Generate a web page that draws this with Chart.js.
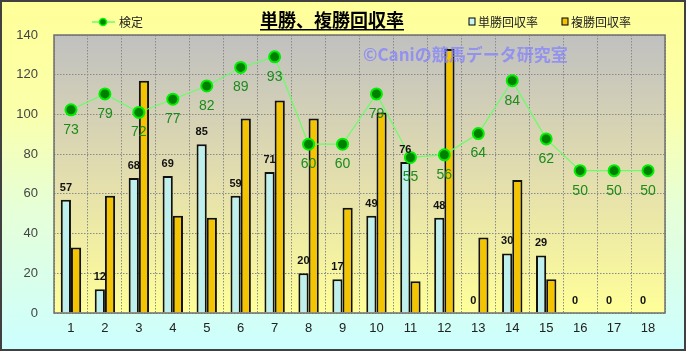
<!DOCTYPE html>
<html>
<head>
<meta charset="utf-8">
<script src="https://cdn.jsdelivr.net/npm/chart.js@4.4.0/dist/chart.umd.min.js"></script>
<style>
  body { margin: 0; background: #fff; }
  #wrap { position: relative; width: 686px; height: 351px; }
</style>
</head>
<body>
<div id="wrap"><canvas id="chart" width="686" height="351"></canvas></div>
<script>
const labels = ['1','2','3','4','5','6','7','8','9','10','11','12','13','14','15','16','17','18'];
const tanshoRate = [57, 12, 68, 69, 85, 59, 71, 20, 17, 49, 76, 48, 0, 30, 29, 0, 0, 0];
const fukushoRate = [33, 59, 117, 49, 48, 98, 107, 98, 53, 101, 16, 133, 38, 67, 17, 0, 0, 0];
const kentei = [73, 79, 72, 77, 82, 89, 93, 60, 60, 79, 55, 56, 64, 84, 62, 50, 50, 50];
const yTicks = [0, 20, 40, 60, 80, 100, 120, 140];

const JP = '"Noto Sans CJK JP", sans-serif';
const NUM = '"Liberation Sans", Arial, sans-serif';

// backgrounds, frame, title, legend, watermark
const decorPlugin = {
  id: 'decor',
  beforeDraw(chart) {
    const { ctx, width, height, chartArea: a } = chart;
    ctx.save();
    let g = ctx.createLinearGradient(0, 0, 0, height);
    g.addColorStop(0, '#ffff99');
    g.addColorStop(0.3, '#fbffa8');
    g.addColorStop(0.6, '#e6ffd8');
    g.addColorStop(1, '#ccffff');
    ctx.fillStyle = g;
    ctx.fillRect(0, 0, width, height);

    g = ctx.createLinearGradient(0, a.top, 0, a.bottom);
    g.addColorStop(0, '#c0c0c0');
    g.addColorStop(0.5, '#e2ddae');
    g.addColorStop(1, '#ffff99');
    ctx.fillStyle = g;
    ctx.fillRect(a.left, a.top, a.right - a.left, a.bottom - a.top);
    ctx.restore();
  },
  afterDraw(chart) {
    const { ctx, width, height, chartArea: a } = chart;
    ctx.save();
    // plot frame
    ctx.strokeStyle = '#707070';
    ctx.lineWidth = 1.5;
    ctx.strokeRect(a.left, a.top, a.right - a.left, a.bottom - a.top);
    // outer frame
    ctx.strokeStyle = '#404040';
    ctx.lineWidth = 2;
    ctx.strokeRect(1, 1, width - 2, height - 2);

    // title
    ctx.fillStyle = '#000';
    ctx.font = 'bold 18px ' + JP;
    ctx.textBaseline = 'middle';
    ctx.textAlign = 'center';
    ctx.fillText('単勝、複勝回収率', 332, 20);
    const tw = ctx.measureText('単勝、複勝回収率').width;
    ctx.fillRect(332 - tw / 2, 29, tw, 1.5);

    // left legend
    ctx.strokeStyle = '#66ff66';
    ctx.lineWidth = 1.5;
    ctx.beginPath(); ctx.moveTo(92, 22); ctx.lineTo(115, 22); ctx.stroke();
    ctx.fillStyle = '#008000';
    ctx.strokeStyle = '#00ff00';
    ctx.beginPath(); ctx.arc(103, 22, 3.5, 0, Math.PI * 2); ctx.fill(); ctx.stroke();
    ctx.fillStyle = '#222';
    ctx.font = '12px ' + JP;
    ctx.textAlign = 'left';
    ctx.fillText('検定', 119, 22);

    // right legend
    const items = [['単勝回収率', '#c8f4f4', 472], ['複勝回収率', '#f5c400', 565]];
    items.forEach(([t, c, x]) => {
      ctx.fillStyle = c;
      ctx.fillRect(x - 3, 18, 6, 7);
      ctx.strokeStyle = '#000';
      ctx.lineWidth = 1;
      ctx.strokeRect(x - 3, 18, 6, 7);
      ctx.fillStyle = '#222';
      ctx.fillText(t, x + 6, 22);
    });

    // watermark
    ctx.fillStyle = 'rgba(130,130,255,0.75)';
    ctx.font = 'bold 17px ' + JP;
    ctx.fillText('©Caniの競馬データ研究室', 363, 55);
    ctx.restore();
  }
};

// value labels
const labelPlugin = {
  id: 'valueLabels',
  afterDatasetsDraw(chart) {
    const { ctx } = chart;
    ctx.save();
    ctx.textAlign = 'center';
    ctx.textBaseline = 'middle';
    const barMeta = chart.getDatasetMeta(1);
    ctx.font = 'bold 11px ' + NUM;
    ctx.fillStyle = '#111';
    barMeta.data.forEach((el, i) => {
      ctx.fillText(String(tanshoRate[i]), el.x, el.y - 12);
    });
    const lineMeta = chart.getDatasetMeta(0);
    ctx.font = '14px ' + NUM;
    ctx.fillStyle = '#1b8c1b';
    lineMeta.data.forEach((el, i) => {
      ctx.fillText(String(kentei[i]), el.x, el.y + 20);
    });
    ctx.restore();
  }
};

new Chart(document.getElementById('chart'), {
  data: {
    labels: labels,
    datasets: [
      {
        type: 'line',
        label: '検定',
        data: kentei,
        yAxisID: 'y2',
        order: 0,
        borderColor: '#66ff66',
        borderWidth: 1.2,
        pointRadius: 5.5,
        pointBorderWidth: 2,
        pointBackgroundColor: '#008000',
        pointBorderColor: '#00ee00',
        tension: 0
      },
      {
        type: 'bar',
        label: '単勝回収率',
        data: tanshoRate,
        order: 1,
        backgroundColor: '#bff0f0',
        borderColor: '#111',
        borderWidth: 2,
        categoryPercentage: 0.6,
        barPercentage: 1.0
      },
      {
        type: 'bar',
        label: '複勝回収率',
        data: fukushoRate,
        order: 1,
        backgroundColor: '#f5c400',
        borderColor: '#111',
        borderWidth: 2,
        categoryPercentage: 0.6,
        barPercentage: 1.0
      }
    ]
  },
  options: {
    responsive: false,
    animation: false,
    layout: { padding: { left: 0, right: 21, top: 35, bottom: 0 } },
    plugins: { legend: { display: false }, tooltip: { enabled: false } },
    scales: {
      x: {
        offset: true,
        grid: { offset: true, color: '#8a8a8a', drawTicks: false },
        border: { display: false, dash: [1.5, 1.5] },
        ticks: { color: '#222', font: { family: NUM, size: 13 }, padding: 8 },
        afterFit(s) { s.height = 38; }
      },
      y: {
        min: 0, max: 140,
        afterBuildTicks(s) { s.ticks = yTicks.map(v => ({ value: v })); },
        grid: { color: '#8a8a8a', drawTicks: false },
        border: { display: false, dash: [1.5, 1.5] },
        ticks: { color: '#444', font: { family: NUM, size: 13 }, padding: 16 },
        afterFit(s) { s.width = 54; }
      },
      y2: {
        display: false,
        min: -3.75, max: 101.25
      }
    }
  },
  plugins: [decorPlugin, labelPlugin]
});
</script>
</body>
</html>
